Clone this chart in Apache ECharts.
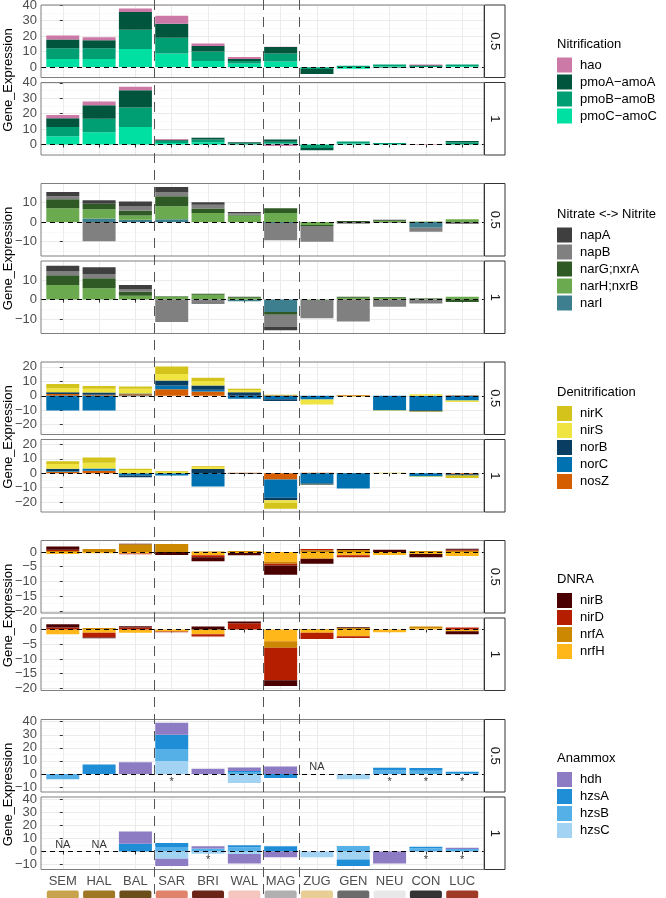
<!DOCTYPE html>
<html>
<head>
<meta charset="utf-8">
<script src="https://cdn.jsdelivr.net/npm/echarts@6.0.0/dist/echarts.min.js"></script>
<style>
  html, body { margin: 0; background: #fff; }
  #chart { width: 666px; height: 898px; }
</style>
</head>
<body>
<div id="chart"></div>
<script>
const sites = ['SEM', 'HAL', 'BAL', 'SAR', 'BRI', 'WAL', 'MAG', 'ZUG', 'GEN', 'NEU', 'CON', 'LUC']
const siteColors = ['#C9A24D', '#A07825', '#6B4E1A', '#E0836B', '#6B2418', '#F5C6BD',
  '#B0B0B0', '#E8CD94', '#6B6B6B', '#E8E8E8', '#333333', '#9E3A26']
const fractions = ['0.5', '1']
const groupBreaks = [2.5, 5.5, 6.5]

// Nitrification
const nitrifGenes = ['hao', 'pmoA\u2212amoA', 'pmoB\u2212amoB', 'pmoC\u2212amoC']
const nitrifColors = ['#CC79A7', '#00553C', '#009E73', '#00E0A2']
const nitrif05 = [
  [2.6, 1.9, 2.3, 5.3, 1.5, 1.3, 0.2, 0, 0, 0, 0.6, 0],
  [5.6, 5.2, 11.6, 9.1, 3.7, 1.3, 4.3, -3.3, 0, -0.3, 0.5, 0],
  [7.0, 7.0, 12.4, 10.2, 6.1, 1.7, 5.2, -1.0, 0.8, 1.2, 0.6, 1.2],
  [5.2, 5.2, 11.7, 8.7, 3.9, 2.2, 3.5, -0.3, -1.2, 0.5, 0, 0.5],
]
const nitrif1 = [
  [2.0, 2.4, 2.2, 0.4, 0, 0, -1.0, 0, 0, 0, 0.3, 0],
  [5.7, 8.8, 11.2, 0.7, 1.1, 0.7, 1.5, -1.4, 0, 0, 0, 0.7],
  [6.1, 8.8, 12.6, 1.4, 1.8, 0.8, 1.2, -2.0, 1.3, 0.7, 0, 1.5],
  [5.3, 7.9, 11.4, 1.0, 1.5, 0, 0.6, -0.3, 0.7, 0.3, 0, 0],
]
const nitrifRange = [-6.8, 40.2]
const nitrifTicks = [0, 10, 20, 30, 40]

// Nitrate <-> Nitrite
const nitrateGenes = ['napA', 'napB', 'narG;nxrA', 'narH;nxrB', 'narI']
const nitrateColors = ['#3F3F3F', '#808080', '#2F5A25', '#6BAA4E', '#3E7F8F']
const nitrate05 = [
  [2.2, 1.7, 2.5, 2.5, 1.2, 0.4, 0, 0, 0, 0.3, 0, 0],
  [1.5, -9.8, 2.2, 2.2, 2.0, 1.0, -8.7, -8.0, -0.8, -0.3, -2.0, -1.0],
  [4.6, 2.9, 2.4, 5.1, 2.2, 0.3, 2.4, -0.5, 0.5, 0.4, 0, 0],
  [7.1, 4.6, 2.2, 6.6, 4.7, 3.4, 4.7, -1.5, 0, 0.5, 0.3, 1.5],
  [0, 1.9, 1.2, 1.5, 0, 0, -0.5, 0, 0, 0, -2.9, 0],
]
const nitrate1 = [
  [2.9, 3.4, 2.2, 0, 0, 0, -1.7, 0, 0, 0, 0, 0],
  [2.0, 2.2, 1.2, -11.4, -2.2, 0, -6.3, -9.3, -11.2, -3.6, -2.0, 0],
  [4.9, 5.1, 2.0, 0.3, 0.5, 0.4, -1.4, 0, 0.5, 0.4, 0.3, -1.2],
  [7.5, 5.8, 2.0, 1.4, 2.5, 1.0, 0, -0.2, 0.9, 0.8, 0.4, 1.5],
  [0, 0, 0, 0, 0, -0.8, -6.3, 0, 0, 0, 0, 0],
]
const nitrateRange = [-17.3, 19.7]
const nitrateTicks = [-10, 0, 10]

// Denitrification
const denitGenes = ['nirK', 'nirS', 'norB', 'norC', 'nosZ']
const denitColors = ['#D4C31A', '#F0E442', '#0A3D62', '#0072B2', '#D55E00']
const denit05 = [
  [3.0, 1.9, 1.6, 5.2, 2.3, 0.9, 0.5, 0, -0.5, 0, -0.4, 0],
  [2.7, 2.7, 3.2, 4.5, 3.0, 1.4, 0, -3.6, 0, -0.3, 1.1, -1.1],
  [1.3, 1.4, 0.6, 3.4, 3.0, 2.5, -1.2, 0, 0, 0, -0.9, 0],
  [-10.2, -10.2, -0.3, 2.7, 1.2, -2.0, -2.4, -2.5, 0, -10.2, -10.0, -3.2],
  [1.2, 0.8, 1.0, 4.5, 3.0, 0, 0.3, 0, 0.5, 0, 0, 0.3],
]
const denit1 = [
  [2.0, 3.6, 0.9, 0.5, 0.5, 0, -4.1, 0, 0, 0.4, 0, -1.8],
  [3.2, 3.9, 2.3, 0.9, 1.5, 0, -1.8, -0.2, 0, 0, -0.3, 0],
  [1.6, 0, -1.2, 0, 3.0, -0.3, -1.6, -0.9, 0, 0, 0, -0.9],
  [0.5, 1.6, -1.5, -1.6, -9.1, 0, -12.7, -7.0, -10.5, 0, -2.2, 0],
  [1.1, 1.8, 0, 0, 0, 0.3, -4.3, 0.3, 0.2, 0, 0, -0.6],
]
const denitRange = [-26.8, 23.4]
const denitTicks = [-20, -10, 0, 10, 20]

// DNRA
const dnraGenes = ['nirB', 'nirD', 'nrfA', 'nrfH']
const dnraColors = ['#4A0000', '#B51F00', '#CC8800', '#FFB719']
const dnra05 = [
  [1.1, 0, 0.2, -1.0, -1.3, -0.8, -3.1, -1.7, 0.3, 0.8, -1.1, 0.3],
  [0.5, 0, -0.3, 0, -0.7, 0, -0.6, 0.4, -0.7, 0, 0, 0.4],
  [0.3, 1.0, 2.6, 2.7, 0.2, 0.3, -0.7, 0.6, 0.7, 0, 0.3, 0.4],
  [-0.7, -0.4, -0.5, 0, -1.1, -0.3, -3.3, -2.3, -1.1, -1.0, -0.7, -1.4],
]
const dnra1 = [
  [1.1, -0.3, 0.4, 0, 1.0, 0.6, -2.0, 0, 0.3, 0, 0, -1.0],
  [0.7, -1.6, 0.7, -0.2, -0.8, 2.1, -11.0, -2.1, -0.6, 0, 0, 0.7],
  [0, 0.5, 0, 0, 0, 0, -2.2, 0.2, 0.5, 0, 0.6, 0],
  [-1.6, -1.1, -1.1, -0.7, -1.6, 0, -4.0, -1.1, -2.3, -0.9, 0.4, -0.6],
]
const dnraRange = [-20.7, 3.9]
const dnraTicks = [-20, -15, -10, -5, 0]

// Anammox
const anammoxGenes = ['hdh', 'hzsA', 'hzsB', 'hzsC']
const anammoxColors = ['#8D7BC4', '#1F8ED6', '#56B0E8', '#A3D3F2']
const anammox05 = [
  [0, 0, 9.0, 9.3, 4.0, 2.8, 5.7, 0, 0, 0, 0, 0],
  [0, 7.3, 0, 10.9, 0, 0.6, -3.0, 0, 0, 2.0, 2.0, 1.0],
  [-4.0, 0, 0, 9.1, 0, 1.6, 0, 0, 0, 2.7, 2.5, 0.7],
  [0, 0, 0, 10.0, 0, -7.0, 0, 0, -4.0, 0, 0, 0],
]
const anammox1 = [
  [0, 0, 9.3, -5.7, 1.8, -7.2, -4.5, 0, 0, -9.2, 0, 1.0],
  [0, 0, 6.0, 3.0, 0, 1.5, 4.0, 0, -5.0, 0, 1.2, 0],
  [0, 0, 0, 3.5, 2.2, 3.2, 0, 0, 4.2, 0, 2.5, 1.8],
  [0, 0, 0, -5.5, -1.7, -2.0, 0, -4.5, -6.2, 0, 0, 0],
]
const anammoxRange = [-13.8, 41.7]
const anammoxTicks = [-10, 0, 10, 20, 30, 40]
const anammoxNA = [[7], [0, 1]]
const anammoxStar = [[3, 9, 10, 11], [4, 10, 11]]
const naY = 5
const starY = -6.5

const groups = [
  { title: 'Nitrification', genes: nitrifGenes, colors: nitrifColors, data: [nitrif05, nitrif1], range: nitrifRange, ticks: nitrifTicks, split: 5 },
  { title: 'Nitrate <-> Nitrite', genes: nitrateGenes, colors: nitrateColors, data: [nitrate05, nitrate1], range: nitrateRange, ticks: nitrateTicks, split: 4 },
  { title: 'Denitrification', genes: denitGenes, colors: denitColors, data: [denit05, denit1], range: denitRange, ticks: denitTicks, split: 5 },
  { title: 'DNRA', genes: dnraGenes, colors: dnraColors, data: [dnra05, dnra1], range: dnraRange, ticks: dnraTicks, split: 5 },
  { title: 'Anammox', genes: anammoxGenes, colors: anammoxColors, data: [anammox05, anammox1], range: anammoxRange, ticks: anammoxTicks, split: 5,
    na: anammoxNA, star: anammoxStar },
]

// layout
const FONT = 'Liberation Sans, Arial, sans-serif'
const PANEL_L = 41
const PANEL_R = 484
const PANEL_H = 72.5
const FACET_GAP = 5
const GROUP_TOP = [5, 183.5, 362, 540.5, 719.5]
const STRIP_W = 20.5
const LEGEND_X = 557

const fmt = (v) => (v < 0 ? '\u2212' + (-v) : String(v))
const siteIdx = sites.map((_, i) => i)

const rich = { n: { fontSize: 13, color: '#4D4D4D', lineHeight: 18, fontFamily: FONT } }
siteColors.forEach((c, i) => {
  rich['c' + i] = { width: 32, height: 8, backgroundColor: c, borderRadius: 2 }
})

const grid = [], xAxis = [], yAxis = [], series = [], legend = [], graphic = []

groups.forEach((g, gi) => {
  const gTop = GROUP_TOP[gi]
  fractions.forEach((f, fi) => {
    const idx = gi * 2 + fi
    const top = gTop + fi * (PANEL_H + FACET_GAP)
    const isBottom = fi === 1
    const isLast = idx === groups.length * 2 - 1
    grid.push({
      left: PANEL_L, top, width: PANEL_R - PANEL_L, height: PANEL_H,
      containLabel: false, outerBoundsMode: 'none',
    })
    xAxis.push({
      type: 'value', gridIndex: idx, min: -0.6, max: 11.6, splitNumber: 12,
      axisLine: { show: false },
      axisTick: { show: isBottom, customValues: siteIdx, length: 3, lineStyle: { color: '#333', width: 1 } },
      axisLabel: {
        show: isLast, customValues: siteIdx, margin: 3, rich,
        formatter: (v) => '{n|' + sites[v] + '}\n{c' + v + '| }',
      },
      splitLine: { show: true, lineStyle: { color: '#EBEBEB', width: 1 } },
    })
    yAxis.push({
      type: 'value', gridIndex: idx, min: g.range[0], max: g.range[1], splitNumber: g.split,
      axisLine: { show: false },
      axisTick: { show: true, customValues: g.ticks, length: 3, lineStyle: { color: '#333', width: 1 } },
      axisLabel: { customValues: g.ticks, formatter: fmt, color: '#4D4D4D', fontSize: 13, fontFamily: FONT, margin: 4 },
      splitLine: { lineStyle: { color: '#EBEBEB', width: 1 } },
      minorTick: { show: false, splitNumber: 2 },
      minorSplitLine: { show: true, lineStyle: { color: '#F5F5F5', width: 0.6 } },
    })
    // ggplot stacks the last level next to zero; value goes first so that it is the stacked dimension
    for (let k = g.genes.length - 1; k >= 0; k--) {
      series.push({
        type: 'bar', name: g.genes[k], xAxisIndex: idx, yAxisIndex: idx,
        stack: 'panel' + idx, barWidth: 33, silent: true, animation: false,
        itemStyle: { color: g.colors[k] },
        encode: { x: 1, y: 0 },
        data: g.data[fi][k].map((v, i) => [v, i]),
      })
    }
    series.push({
      type: 'line', xAxisIndex: idx, yAxisIndex: idx, data: [], z: 5, silent: true,
      markLine: {
        silent: true, symbol: 'none', animation: false, label: { show: false },
        lineStyle: { color: '#000', type: [5, 4], width: 1.2 },
        data: [{ yAxis: 0 }],
      },
    })
    if (g.na) {
      const pts = g.na[fi].map((i) => ({ value: [i, naY], label: { formatter: 'NA' } }))
        .concat(g.star[fi].map((i) => ({ value: [i, starY], label: { formatter: '*' } })))
      series.push({
        type: 'scatter', xAxisIndex: idx, yAxisIndex: idx, symbolSize: 1, z: 6, silent: true,
        itemStyle: { color: 'rgba(0,0,0,0)' }, animation: false,
        label: { show: true, position: 'inside', color: '#000', fontSize: 11, fontFamily: FONT },
        data: pts,
      })
    }
    // panel border and strip
    graphic.push({
      type: 'rect', z: 20, silent: true,
      shape: { x: PANEL_L, y: top, width: PANEL_R - PANEL_L, height: PANEL_H },
      style: { fill: 'none', stroke: '#7F7F7F', lineWidth: 1 },
    })
    graphic.push({
      type: 'rect', z: 20, silent: true,
      shape: { x: PANEL_R + 0.5, y: top, width: STRIP_W, height: PANEL_H },
      style: { fill: '#fff', stroke: '#333', lineWidth: 1 },
    })
    graphic.push({
      type: 'text', z: 21, silent: true, x: PANEL_R + 0.5 + STRIP_W / 2, y: top + PANEL_H / 2, rotation: -Math.PI / 2,
      style: { text: f, fill: '#1A1A1A', fontSize: 13, fontFamily: FONT, align: 'center', verticalAlign: 'middle' },
    })
  })
  const gMid = gTop + PANEL_H + FACET_GAP / 2
  graphic.push({
    type: 'text', z: 21, silent: true, x: 8, y: gMid, rotation: Math.PI / 2,
    style: { text: 'Gene_Expression', fill: '#000', fontSize: 13, fontFamily: FONT, align: 'center', verticalAlign: 'middle' },
  })
  const n = g.genes.length
  const titleY = gMid - (21 + (n - 1) * 17) / 2
  graphic.push({
    type: 'text', z: 21, silent: true, x: LEGEND_X, y: titleY,
    style: { text: g.title, fill: '#000', fontSize: 13, fontFamily: FONT, align: 'left', verticalAlign: 'middle' },
  })
  legend.push({
    orient: 'vertical', left: LEGEND_X, top: titleY + 21 - 7.5, padding: 0,
    itemWidth: 15, itemHeight: 15, itemGap: 2, icon: 'rect', selectedMode: false,
    data: g.genes,
    textStyle: { fontSize: 13, color: '#000', fontFamily: FONT, lineHeight: 15, padding: [0, 0, 0, 3] },
  })
})

const chart = echarts.init(document.getElementById('chart'), null, { renderer: 'canvas' })
chart.setOption({ animation: false, grid, xAxis, yAxis, series, legend })

// dashed separators between site groups, full figure height
groupBreaks.forEach((b) => {
  const x = Math.round(chart.convertToPixel({ xAxisIndex: 0 }, b)) + 0.5
  graphic.push({
    type: 'line', z: 22, silent: true,
    shape: { x1: x, y1: 0, x2: x, y2: 898 },
    style: { stroke: '#555', lineWidth: 1, lineDash: [10, 7] },
  })
})
chart.setOption({ graphic })
</script>
</body>
</html>
